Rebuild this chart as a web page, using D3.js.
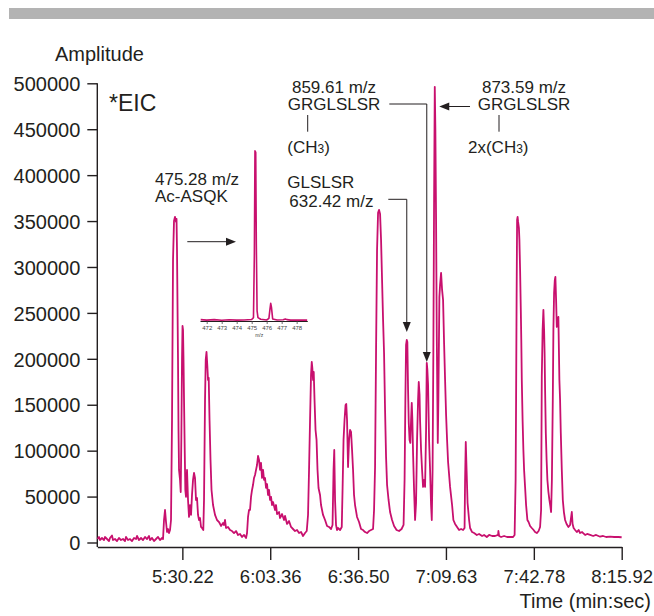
<!DOCTYPE html>
<html>
<head>
<meta charset="utf-8">
<script src="https://cdn.jsdelivr.net/npm/d3@7"></script>
<style>
  body { margin: 0; background: #fff; }
  svg { display: block; font-family: "Liberation Sans", Arial, Helvetica, sans-serif; }
</style>
</head>
<body>
<div id="chart"></div>
<script>
////////////////////////////////////////////////////////////////////
////////////////////////////  Data  ///////////////////////////////
// extracted ion chromatogram: [time (s), amplitude]
const eicTrace = [
  [298.22, 3800], [298.78, 6000], [299.16, 2700], [299.91, 4900], [300.67, 2700], [301.04, 6000],
  [301.80, 3800], [302.55, 1600], [302.93, 4900], [303.68, 7600], [304.06, 2700], [304.81, 3800],
  [305.57, 1600], [306.32, 4900], [307.08, 2700], [307.83, 3800], [308.59, 1600], [308.97, 6000],
  [309.72, 2700], [310.48, 3800], [311.23, 1600], [311.99, 4900], [312.74, 3800], [313.12, 7100],
  [313.87, 2700], [314.63, 4900], [315.38, 2700], [316.14, 6000], [316.89, 3800], [317.64, 7100],
  [318.02, 2700], [318.78, 4900], [319.53, 1600], [320.29, 3800], [321.04, 6000], [321.79, 2700],
  [322.55, 4900], [322.93, 3800], [323.30, 24500], [323.68, 35400], [324.06, 22300], [324.43, 11400],
  [324.81, 14700], [325.19, 10300], [325.57, 13600], [325.94, 24500], [326.32, 133400], [326.70, 307700],
  [327.07, 350200], [327.45, 354600], [327.83, 349100], [328.02, 352400], [328.20, 318600], [328.58, 198800],
  [328.77, 122500], [328.96, 79000], [329.34, 68100], [329.60, 55000], [329.83, 111700], [330.09, 198800],
  [330.28, 235800], [330.47, 231500], [330.66, 198800], [330.85, 155200], [331.11, 100800], [331.34, 57200],
  [331.60, 49600], [331.98, 79000], [332.36, 46300], [332.73, 27800], [333.11, 40800], [333.49, 30000],
  [333.86, 51700], [334.24, 68100], [334.62, 75700], [334.99, 70300], [335.37, 46300], [335.75, 48500],
  [336.13, 30000], [336.50, 24500], [336.88, 26700], [337.26, 16900], [337.63, 15800], [338.12, 13600],
  [338.39, 46300], [338.77, 155200], [339.03, 198800], [339.33, 207500], [339.64, 192300], [339.90, 177000],
  [340.16, 179200], [340.47, 133400], [340.84, 89900], [341.22, 57200], [341.79, 40800], [342.54, 30000],
  [343.29, 24500], [344.05, 22300], [344.80, 18000], [345.56, 21200], [345.94, 19100], [346.31, 24500],
  [346.69, 15800], [347.44, 16900], [348.20, 13600], [348.95, 12500], [349.71, 10300], [350.46, 12500],
  [351.22, 8200], [351.97, 9300], [352.73, 6000], [353.48, 8200], [354.24, 4900], [354.61, 10300],
  [354.99, 27800], [355.37, 35400], [355.74, 35400], [356.12, 49600], [356.50, 57200], [356.87, 62600],
  [357.25, 70300], [357.63, 73500], [358.01, 79000], [358.38, 84400], [358.76, 94200], [359.14, 89900],
  [359.52, 79000], [359.89, 86600], [360.27, 70300], [360.65, 79000], [361.03, 68100], [361.40, 70300],
  [361.78, 59400], [362.16, 63700], [362.53, 51700], [362.91, 57200], [363.29, 46300], [363.67, 49600],
  [364.04, 40800], [364.42, 44100], [365.18, 35400], [365.55, 40800], [365.93, 31000], [366.68, 33200],
  [367.06, 26700], [367.81, 31000], [368.57, 24500], [368.95, 28900], [369.70, 20200], [370.45, 23400],
  [371.21, 16900], [371.96, 14700], [372.72, 12500], [373.47, 13600], [374.23, 10300], [374.98, 11400],
  [375.74, 7100], [376.49, 10300], [377.13, 12500], [377.62, 30000], [378.00, 79000], [378.38, 133400],
  [378.75, 182500], [379.02, 196600], [379.24, 190100], [379.51, 177000], [379.77, 185700], [380.07, 155200],
  [380.45, 122500], [380.83, 111700], [381.20, 79000], [381.58, 59400], [382.15, 51700], [382.52, 40800],
  [383.28, 30000], [384.04, 24500], [384.79, 18000], [385.54, 16900], [386.30, 14700], [386.86, 19100],
  [387.24, 79000], [387.51, 100800], [387.81, 46300], [388.18, 19100], [388.56, 13600], [388.94, 15800],
  [389.70, 13600], [390.34, 16900], [390.64, 57200], [391.01, 111700], [391.39, 133400], [391.77, 149800],
  [392.03, 150900], [392.33, 133400], [392.71, 82200], [393.09, 111700], [393.47, 122500], [393.84, 120400],
  [394.22, 100800], [394.60, 79000], [394.97, 51700], [395.35, 40800], [396.10, 27800], [396.86, 22300],
  [397.61, 14700], [398.37, 13600], [399.12, 11400], [399.88, 10300], [400.63, 12500], [401.39, 13600],
  [402.14, 14700], [402.52, 35400], [402.90, 82200], [403.28, 209700], [403.65, 318600], [404.03, 358900],
  [404.41, 362200], [404.79, 357800], [405.16, 329500], [405.54, 285900], [405.92, 242400], [406.29, 206400],
  [406.67, 144300], [407.05, 93100], [407.43, 62600], [407.99, 46300], [408.56, 33200], [409.31, 24500],
  [410.07, 18000], [411.01, 13600], [411.95, 12500], [412.90, 14700], [413.65, 19100], [414.03, 68100],
  [414.33, 155200], [414.59, 215100], [414.86, 220600], [415.08, 218400], [415.35, 166100], [415.61, 130200],
  [415.91, 111700], [416.21, 108400], [416.48, 133400], [416.74, 152000], [416.97, 133400], [417.23, 97500],
  [417.61, 57200], [417.99, 24500], [418.36, 43000], [418.74, 111700], [419.12, 155200], [419.38, 174800],
  [419.68, 160700], [419.87, 133400], [420.25, 100800], [420.63, 79000], [421.00, 60500], [421.38, 68100],
  [421.76, 60500], [422.14, 122500], [422.40, 195500], [422.63, 187900], [422.89, 171600], [423.27, 111700],
  [423.65, 79000], [424.02, 40800], [424.29, 24500], [424.59, 79000], [424.89, 209700], [425.16, 373100],
  [425.42, 496200], [425.65, 449300], [425.91, 351300], [426.18, 223900], [426.40, 155200], [426.55, 108400],
  [426.78, 155200], [427.16, 267400], [427.42, 280500], [427.80, 293600], [428.18, 275000], [428.55, 264200],
  [428.93, 217300], [429.31, 177000], [429.69, 138900], [430.06, 111700], [430.44, 87700], [431.19, 60500],
  [431.95, 40800], [432.44, 24500], [433.08, 20200], [433.83, 16900], [434.59, 13600], [435.34, 14700],
  [436.10, 13600], [436.66, 15800], [436.85, 68100], [437.11, 109500], [437.42, 79000], [437.79, 43000],
  [438.36, 24500], [438.74, 15800], [439.49, 11400], [440.25, 10300], [441.27, 8200], [442.13, 9300],
  [443.26, 7100], [444.02, 8200], [445.04, 6000], [445.91, 8200], [447.04, 7100], [448.17, 7100],
  [449.30, 8200], [449.42, 12500], [449.68, 7100], [450.43, 6000], [451.56, 7100], [452.69, 6000],
  [453.83, 6000], [454.96, 6000], [455.53, 8200], [455.91, 68100], [456.09, 155200], [456.28, 264200],
  [456.47, 351300], [456.66, 354600], [456.85, 349100], [457.15, 342600], [457.34, 329500], [457.60, 296800],
  [457.87, 253300], [458.05, 220600], [458.24, 177000], [458.54, 133400], [458.84, 100800], [459.11, 79000],
  [459.48, 60500], [459.86, 40800], [460.35, 24500], [460.80, 22300], [461.37, 18000], [462.01, 15800],
  [462.69, 13600], [463.25, 11400], [463.90, 10300], [464.58, 12500], [465.14, 16900], [465.52, 35400],
  [465.78, 180300], [466.09, 231500], [466.39, 253300], [466.65, 231500], [466.84, 206400], [467.03, 166100],
  [467.30, 119300], [467.60, 89900], [467.90, 68100], [468.28, 55000], [468.65, 46300], [468.99, 39800],
  [469.29, 33200], [469.59, 68100], [469.93, 155200], [470.16, 231500], [470.42, 271800], [470.69, 285900],
  [470.91, 289200], [471.18, 264200], [471.44, 234700], [471.74, 242400], [472.04, 245600], [472.42, 177000],
  [472.68, 155200], [472.95, 119300], [473.33, 79000], [473.71, 46300], [474.12, 33200], [474.57, 24500],
  [475.14, 20200], [475.82, 16900], [476.46, 19100], [477.10, 33200], [477.40, 20200], [477.78, 15800],
  [478.35, 13600], [478.99, 11400], [479.67, 13600], [480.23, 10300], [480.99, 11400], [481.48, 10000],
  [482.12, 8200], [482.88, 9300], [484.01, 8200], [485.14, 7100], [486.27, 8200], [487.78, 6300],
  [488.91, 7100], [490.04, 6000], [491.55, 6300], [493.06, 6000], [494.57, 6000], [495.90, 5700],
];

// axes
const timeDomain = [298.14, 495.92];
const yTicks = [0, 50000, 100000, 150000, 200000, 250000, 300000, 350000, 400000, 450000, 500000];
const xTicks = [330.22, 363.36, 396.5, 429.63, 462.78, 495.92];
const xTickLabels = ["5:30.22", "6:03.36", "6:36.50", "7:09.63", "7:42.78", "8:15.92"];

// inset mass spectrum (m/z vs relative intensity)
const insetMz = [471.6, 472.0, 472.5, 473.0, 473.5, 474.0, 474.5, 475.0, 475.12, 475.18, 475.22, 475.27,
  475.31, 475.36, 475.42, 475.6, 476.0, 476.15, 476.22, 476.27, 476.32, 476.4, 476.7, 477.1, 477.25,
  477.35, 477.6, 478.0, 478.7];
const insetIntensity = [0.8, 0.5, 0.8, 0.4, 0.7, 0.5, 0.6, 0.9, 2, 40, 100, 99, 45, 6, 2, 1, 0.6, 1.5,
  7, 10.4, 8, 1.2, 0.6, 0.7, 1.2, 0.8, 0.5, 0.6, 0.5];
const insetTicks = [472, 473, 474, 475, 476, 477, 478];

////////////////////////////////////////////////////////////////////
////////////////////////////  Init  ///////////////////////////////
const width = 654;
const height = 616;
const ink = "#231f20";
const traceColor = "#c8106e";

const svg = d3
  .select("#chart")
  .append("svg")
  .attr("width", width)
  .attr("height", height);

// grey band at the top
svg.append("rect").attr("x", 9).attr("y", 8).attr("width", 645).attr("height", 11).attr("fill", "#b3b3b3");

// scales
const x = d3.scaleLinear().domain(timeDomain).range([97.3, 621.7]);
const y = d3.scaleLinear().domain([0, 500000]).range([542.5, 83.3]);
const axisY = 547;

//y axis
const yAxis = svg
  .append("g")
  .attr("transform", `translate(${x(timeDomain[0])},0)`)
  .call(
    d3.axisLeft(y).tickValues(yTicks).tickSize(10).tickSizeOuter(0).tickPadding(7).tickFormat(d3.format("d"))
  );
yAxis.select(".domain").remove();
yAxis.selectAll("line").attr("stroke", ink).attr("stroke-width", 1.4);
yAxis.selectAll("text").attr("fill", ink).style("font-size", "20px").attr("dy", "0.36em");
svg
  .append("line")
  .attr("x1", x(timeDomain[0]))
  .attr("x2", x(timeDomain[0]))
  .attr("y1", y(500000))
  .attr("y2", axisY)
  .attr("stroke", ink)
  .attr("stroke-width", 1.4);

//x axis
const xAxis = svg
  .append("g")
  .attr("transform", `translate(0,${axisY})`)
  .call(
    d3
      .axisBottom(x)
      .tickValues(xTicks)
      .tickSize(13)
      .tickSizeOuter(0)
      .tickPadding(10)
      .tickFormat((d, i) => xTickLabels[i])
  );
xAxis.select(".domain").attr("stroke", ink).attr("stroke-width", 1.4);
xAxis.selectAll("line").attr("stroke", ink).attr("stroke-width", 1.4);
xAxis.selectAll("text").attr("fill", ink).style("font-size", "18.5px");

// axis titles
svg.append("text").attr("x", 55).attr("y", 61).attr("fill", ink).style("font-size", "20px").text("Amplitude");
svg
  .append("text")
  .attr("x", 651)
  .attr("y", 608)
  .attr("text-anchor", "end")
  .attr("fill", ink)
  .style("font-size", "20px")
  .text("Time (min:sec)");
svg.append("text").attr("x", 109).attr("y", 111).attr("fill", ink).style("font-size", "23px").text("*EIC");

//trace
const traceLine = d3
  .line()
  .x((d) => x(d[0]))
  .y((d) => y(d[1]));

svg
  .append("path")
  .datum(eicTrace)
  .attr("d", traceLine)
  .attr("fill", "none")
  .attr("stroke", traceColor)
  .attr("stroke-width", 1.8)
  .attr("stroke-linejoin", "round");

////////////////////////////////////////////////////////////////////
////////////////////////////  Inset  //////////////////////////////
const xi = d3.scaleLinear().domain([471.553, 478.71]).range([200, 307.3]);
const yi = d3.scaleLinear().domain([0, 100]).range([321, 150.7]);

const inset = svg.append("g").attr("transform", `translate(0,${yi(0)})`);
inset.call(d3.axisBottom(xi).tickValues(insetTicks).tickSize(3).tickSizeOuter(0).tickPadding(2));
inset.select(".domain").attr("stroke", ink).attr("stroke-width", 1.2);
inset.selectAll("line").attr("stroke", "#444").attr("stroke-width", 0.8);
inset.selectAll("text").attr("fill", "#444").style("font-size", "6px");
inset
  .append("text")
  .attr("x", xi(475.5))
  .attr("y", 16)
  .attr("text-anchor", "middle")
  .attr("fill", "#444")
  .style("font-size", "5px")
  .text("m/z");

const insetLine = d3
  .line()
  .x((d, i) => xi(insetMz[i]))
  .y((d) => yi(d));

svg
  .append("path")
  .datum(insetIntensity)
  .attr("d", insetLine)
  .attr("fill", "none")
  .attr("stroke", traceColor)
  .attr("stroke-width", 1.6)
  .attr("stroke-linejoin", "round");

////////////////////////////////////////////////////////////////////
////////////////////////////  Labels  /////////////////////////////
// multi-line label in one text element (lines as tspans)
const addText = (lines, xPos, y0, anchor, gap = 16.7) => {
  const t = svg
    .append("text")
    .attr("x", xPos)
    .attr("y", y0)
    .attr("text-anchor", anchor)
    .attr("fill", ink)
    .style("font-size", "17px");
  lines.forEach((line, i) => {
    t.append("tspan")
      .attr("x", xPos)
      .attr("dy", i === 0 ? 0 : gap)
      .text(line);
  });
};

// arrow head as filled triangle
const arrowHead = (tx, ty, dir) => {
  const len = 10,
    half = 4;
  let pts;
  if (dir === "down") pts = [[tx, ty], [tx - half, ty - len], [tx + half, ty - len]];
  if (dir === "right") pts = [[tx, ty], [tx - len, ty - half], [tx - len, ty + half]];
  if (dir === "left") pts = [[tx, ty], [tx + len, ty - half], [tx + len, ty + half]];
  svg.append("path").attr("d", "M" + pts.join("L") + "Z").attr("fill", ink);
};

const connector = (d) => {
  svg.append("path").attr("d", d).attr("fill", "none").attr("stroke", ink).attr("stroke-width", 1);
};

// CH3 with small 3
const ch3 = (prefix, xPos, yPos) => {
  const t = svg.append("text").attr("x", xPos).attr("y", yPos).attr("fill", ink).style("font-size", "17px");
  t.append("tspan").text(prefix + "(CH");
  t.append("tspan").style("font-size", "12px").text("3");
  t.append("tspan").text(")");
};

// Ac-ASQK
addText(["475.28 m/z", "Ac-ASQK"], 155, 185, "start");
connector("M187.3,241.7H227");
arrowHead(236, 241.7, "right");

// 859.61
addText(["859.61 m/z", "GRGLSLSR"], 334, 93.3, "middle");
connector("M307.7,115V131.7");
ch3("", 287.3, 152.7);
const p859 = x(422.4);
connector(`M389.3,104H${p859}V352`);
arrowHead(p859, 362, "down");

// 873.59
addText(["873.59 m/z", "GRGLSLSR"], 524, 93.3, "middle");
connector("M499,115V131.7");
ch3("2x", 468, 152.7);
const p873 = x(425.42) + 4.5;
connector(`M470,106.5H${p873 + 9}`);
arrowHead(p873, 106.5, "left");

// GLSLSR
addText(["GLSLSR"], 287.3, 187.7, "start");
addText(["632.42 m/z"], 289.3, 206.7, "start");
const p632 = x(414.86);
connector(`M388.3,199.3H${p632}V322`);
arrowHead(p632, 332, "down");
</script>
</body>
</html>
